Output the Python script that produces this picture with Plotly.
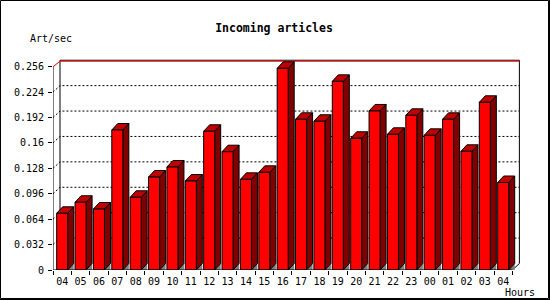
import plotly.graph_objects as go

# ---- data ----
hours = ["04", "05", "06", "07", "08", "09", "10", "11", "12", "13", "14", "15",
         "16", "17", "18", "19", "20", "21", "22", "23", "00", "01", "02", "03", "04"]
art_per_sec = [0.0714, 0.0853, 0.0768, 0.1763, 0.0916, 0.1171, 0.1297, 0.1121,
               0.1747, 0.1490, 0.1142, 0.1230, 0.2540, 0.1898, 0.1873, 0.2376,
               0.1659, 0.2003, 0.1709, 0.1948, 0.1696, 0.1898, 0.1495, 0.2112, 0.1102]
y_ticks = [0, 0.032, 0.064, 0.096, 0.128, 0.16, 0.192, 0.224, 0.256]
y_ticktext = ["0", "0.032", "0.064", "0.096", "0.128", "0.16", "0.192", "0.224", "0.256"]
y_max = 0.256

# ---- layout geometry (pixels) ----
W, H = 550, 300
ML, MR, MT, MB = 53, 20, 55, 30
PX_PER_CAT = 18.375
PX_PER_UNIT = 794.0
pw = W - ML - MR
ph = H - MT - MB
x_range = [0, pw / PX_PER_CAT]
y_range = [0, ph / PX_PER_UNIT]

# 3D depth offsets in data units
bdx = 6.0 / PX_PER_CAT
bdy = 6.5 / PX_PER_UNIT
wdx = 7.0 / PX_PER_CAT
wdy = 6.5 / PX_PER_UNIT
n = len(hours)

def px2paper_x(p):
    return (p - ML) / pw

def px2paper_y(q):
    return (H - MB - q) / ph

front_x, front_y, top_x, top_y, side_x, side_y, sh_x, sh_y = ([] for _ in range(8))
for k, v in enumerate(art_per_sec):
    x0, x1 = k + 0.2, k + 0.8
    front_x += [x0, x1, x1, x0, x0, None]
    front_y += [0, 0, v, v, 0, None]
    top_x += [x0, x1, x1 + bdx, x0 + bdx, x0, None]
    top_y += [v, v, v + bdy, v + bdy, v, None]
    side_x += [x1, x1, x1 + bdx, x1 + bdx, x1, None]
    side_y += [0, v, v + bdy, bdy, 0, None]
    sh_x += [x1, x1 + bdx, x1 + bdx, x1, None]
    sh_y += [0, bdy, 0, 0, None]

fig = go.Figure()
fig.add_trace(go.Scatter(x=sh_x, y=sh_y, mode="lines", fill="toself",
                         fillcolor="#808080", line=dict(width=0, color="#808080"),
                         hoverinfo="skip", showlegend=False))
for xs, ys, col in [(side_x, side_y, "#800000"), (top_x, top_y, "#C00000"),
                    (front_x, front_y, "#FF0000")]:
    fig.add_trace(go.Scatter(x=xs, y=ys, mode="lines", fill="toself", fillcolor=col,
                             line=dict(width=1, color="black"),
                             hoverinfo="skip", showlegend=False))

shapes = []
right_back = n + wdx
top_back = y_max + wdy
# dotted grid on back wall (with diagonal from front axis)
for v in y_ticks[1:-1]:
    shapes.append(dict(type="path", xref="x", yref="y", layer="below",
                       path=f"M 0,{v} L {wdx},{v + wdy} L {right_back},{v + wdy}",
                       line=dict(color="black", width=1, dash="2px,2px")))
# back wall frame
shapes.append(dict(type="path", xref="x", yref="y", layer="below",
                   path=f"M {wdx},{wdy} L {wdx},{top_back} L {right_back},{top_back} "
                        f"L {right_back},{wdy} L {n},0",
                   line=dict(color="black", width=1)))
# red max line
red_back = top_back - 1.0 / PX_PER_UNIT
shapes.append(dict(type="path", xref="x", yref="y", layer="below",
                   path=f"M 0,{y_max} L {wdx},{red_back} L {right_back},{red_back}",
                   line=dict(color="red", width=1)))
# front axes
shapes.append(dict(type="line", xref="x", yref="y", x0=0, x1=0, y0=0, y1=y_max,
                   line=dict(color="black", width=1)))
shapes.append(dict(type="line", xref="x", yref="y", x0=0, x1=n, y0=0, y1=0,
                   line=dict(color="black", width=1)))
# image frame
shapes.append(dict(type="rect", xref="paper", yref="paper",
                   x0=px2paper_x(0.5), x1=px2paper_x(548.5),
                   y0=px2paper_y(298.5), y1=px2paper_y(0.5),
                   line=dict(color="black", width=1)))
shapes.append(dict(type="line", xref="paper", yref="paper",
                   x0=px2paper_x(549.5), x1=px2paper_x(549.5),
                   y0=px2paper_y(300), y1=px2paper_y(0),
                   line=dict(color="black", width=1)))
shapes.append(dict(type="line", xref="paper", yref="paper",
                   x0=px2paper_x(0), x1=px2paper_x(550),
                   y0=px2paper_y(299.5), y1=px2paper_y(299.5),
                   line=dict(color="black", width=1)))

mono = "DejaVu Sans Mono"
fig.update_layout(
    width=W, height=H, autosize=False,
    margin=dict(l=ML, r=MR, t=MT, b=MB, pad=0),
    paper_bgcolor="white", plot_bgcolor="white",
    shapes=shapes,
    title=dict(text="<b>Incoming articles</b>", x=274 / W, xanchor="center",
               xref="container", y=1 - 28 / H, yref="container", yanchor="middle",
               font=dict(family=mono, size=11.5, color="black")),
    annotations=[
        dict(text="Art/sec", xref="paper", yref="paper", x=px2paper_x(29),
             y=px2paper_y(38.6), xanchor="left", yanchor="middle", showarrow=False,
             font=dict(family=mono, size=10, color="black"), borderpad=0),
        dict(text="Hours", xref="paper", yref="paper", x=px2paper_x(504),
             y=px2paper_y(292.7), xanchor="left", yanchor="middle", showarrow=False,
             font=dict(family=mono, size=10, color="black"), borderpad=0),
    ],
    xaxis=dict(range=x_range, showgrid=False, zeroline=False, showline=False,
               tickmode="array", tickvals=[k + 0.5 for k in range(n)], ticktext=hours,
               ticks="outside", ticklen=2, tickcolor="rgba(0,0,0,0)",
               tickfont=dict(family=mono, size=10, color="black"),
               minor=dict(tickmode="array", tickvals=list(range(n + 1)), ticks="outside",
                          ticklen=4, tickcolor="black", tickwidth=1, showgrid=False),
               automargin=False, fixedrange=True),
    yaxis=dict(range=y_range, showgrid=False, zeroline=False, showline=False,
               tickmode="array", tickvals=y_ticks, ticktext=y_ticktext,
               ticks="outside", ticklen=4, tickcolor="black", tickwidth=1,
               ticklabelstandoff=2,
               tickfont=dict(family=mono, size=10, color="black"),
               automargin=False, fixedrange=True),
)

fig.write_html("out.html", config={"displayModeBar": False})
